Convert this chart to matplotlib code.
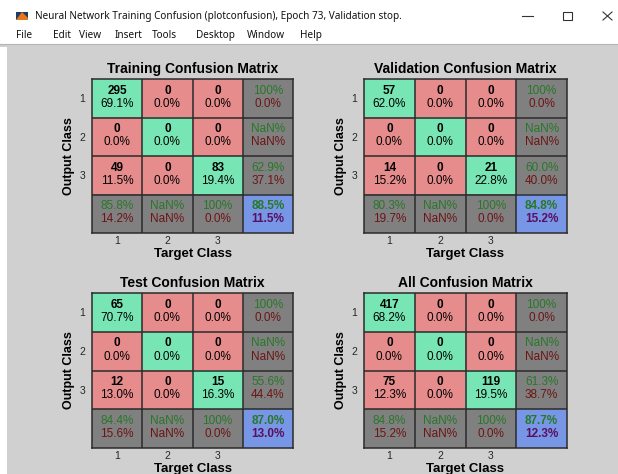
import numpy as np
import matplotlib.pyplot as plt
from matplotlib.patches import Rectangle, Polygon

W, H = 618, 474

WINDOW_TITLE = 'Neural Network Training Confusion (plotconfusion), Epoch 73, Validation stop.'
MENU_ITEMS = ['File', 'Edit', 'View', 'Insert', 'Tools', 'Desktop', 'Window', 'Help']
MENU_X = [16, 53, 79, 115, 152, 196, 247, 300]

CLASS_LABELS = ['1', '2', '3']
SET_NAMES = ['Training', 'Validation', 'Test', 'All']
# rows = output class, cols = target class
TRAIN_COUNTS = [[295, 0, 0], [0, 0, 0], [49, 0, 83]]
VALID_COUNTS = [[57, 0, 0], [0, 0, 0], [14, 0, 21]]
TEST_COUNTS = [[65, 0, 0], [0, 0, 0], [12, 0, 15]]
ALL_COUNTS = [[417, 0, 0], [0, 0, 0], [75, 0, 119]]

# axes boxes in pixels: x0, y0, x1, y1 (y from top)
BOXES = [(92, 79, 293, 233), (364, 79, 567, 233),
         (92, 293, 293, 448), (364, 293, 567, 448)]

GREEN = '#78e6b4'
RED = '#e68c8c'
GRAY = '#808080'
BLUE = '#7896e6'
TXT_GREEN = '#277827'
TXT_RED = '#6e1414'
BG = '#d0d0d0'
FONT = 'Liberation Sans'
CELL_FS = 8.5


def px_box(x0, y0, x1, y1):
    return [x0 / W, 1 - y1 / H, (x1 - x0) / W, (y1 - y0) / H]


def fmt_pct(v):
    if np.isnan(v):
        return 'NaN%'
    if round(v, 1) == 100:
        return '100%'
    return '%.1f%%' % v


def draw_matrix(ax, counts, name):
    cm = np.array(counts, dtype=float)
    n = cm.shape[0]
    total = cm.sum()
    rgb = np.zeros((n + 1, n + 1, 3))
    for i in range(n + 1):
        for j in range(n + 1):
            if i < n and j < n:
                c = GREEN if i == j else RED
            elif i == n and j == n:
                c = BLUE
            else:
                c = GRAY
            rgb[i, j] = plt.matplotlib.colors.to_rgb(c)
    ax.imshow(rgb, extent=(0, n + 1, n + 1, 0), aspect='auto', interpolation='nearest')
    for k in range(1, n + 1):
        ax.axhline(k, color='#2b2b2b', lw=1.1)
        ax.axvline(k, color='#2b2b2b', lw=1.1)

    up, dn = -0.2, 0.14
    for i in range(n):
        for j in range(n):
            ax.text(j + 0.5, i + 0.5 + up, '%d' % cm[i, j], ha='center', va='center',
                    fontsize=CELL_FS, fontweight='bold', family=FONT)
            ax.text(j + 0.5, i + 0.5 + dn, fmt_pct(100 * cm[i, j] / total), ha='center',
                    va='center', fontsize=CELL_FS, family=FONT)
    # row precision
    for i in range(n):
        s = cm[i].sum()
        p = 100 * cm[i, i] / s if s > 0 else np.nan
        ax.text(n + 0.5, i + 0.5 + up, fmt_pct(p), ha='center', va='center',
                fontsize=CELL_FS, color=TXT_GREEN, family=FONT)
        ax.text(n + 0.5, i + 0.5 + dn, fmt_pct(100 - p), ha='center', va='center',
                fontsize=CELL_FS, color=TXT_RED, family=FONT)
    # column recall
    for j in range(n):
        s = cm[:, j].sum()
        p = 100 * cm[j, j] / s if s > 0 else np.nan
        ax.text(j + 0.5, n + 0.5 + up, fmt_pct(p), ha='center', va='center',
                fontsize=CELL_FS, color=TXT_GREEN, family=FONT)
        ax.text(j + 0.5, n + 0.5 + dn, fmt_pct(100 - p), ha='center', va='center',
                fontsize=CELL_FS, color=TXT_RED, family=FONT)
    acc = 100 * np.trace(cm) / total
    ax.text(n + 0.5, n + 0.5 + up, fmt_pct(acc), ha='center', va='center',
            fontsize=CELL_FS, fontweight='bold', color=TXT_GREEN, family=FONT)
    ax.text(n + 0.5, n + 0.5 + dn, fmt_pct(100 - acc), ha='center', va='center',
            fontsize=CELL_FS, fontweight='bold', color='#5a1060', family=FONT)

    ax.set_xlim(0, n + 1)
    ax.set_ylim(n + 1, 0)
    ax.set_xticks(np.arange(n) + 0.5)
    ax.set_xticklabels(CLASS_LABELS, family=FONT, fontsize=7.5)
    ax.set_yticks(np.arange(n) + 0.5)
    ax.set_yticklabels(CLASS_LABELS, family=FONT, fontsize=7.5)
    ax.tick_params(axis='y', length=0, pad=5, colors='#262626')
    ax.tick_params(axis='x', length=0, pad=2, colors='#262626')
    for sp in ax.spines.values():
        sp.set_color('#2b2b2b')
        sp.set_linewidth(1.1)
    ax.set_title(name + ' Confusion Matrix', fontsize=10, fontweight='bold',
                 family=FONT, pad=4)
    ax.set_xlabel('Target Class', fontsize=9.5, fontweight='bold', family=FONT, labelpad=1.5)
    ax.set_ylabel('Output Class', fontsize=9, fontweight='bold', family=FONT, labelpad=3)


fig = plt.figure(figsize=(W / 100, H / 100), dpi=100)
fig.patch.set_facecolor('white')

# window chrome
bg = fig.add_axes([0, 0, 1, 1], zorder=0)
bg.set_xlim(0, W)
bg.set_ylim(H, 0)
bg.axis('off')
bg.add_patch(Rectangle((0, 44), W, 3, color=BG, lw=0))
bg.add_patch(Rectangle((7, 44), W - 7, H - 44, color=BG, lw=0))
bg.plot([0, W], [43.5, 43.5], color='#b4b4b4', lw=0.8)
bg.add_patch(Rectangle((16, 12), 12, 8, color='#1d3f66', lw=0))
bg.add_patch(Polygon([(16, 20), (22, 12), (28, 18), (28, 20)], closed=True, color='#e8761c', lw=0))
bg.text(35, 16, WINDOW_TITLE, fontsize=7.2, va='center', family='Noto Sans', color='#111111')
for label, x in zip(MENU_ITEMS, MENU_X):
    bg.text(x, 35, label, fontsize=7.2, va='center', family='Noto Sans', color='#111111')
bg.plot([522, 533], [16, 16], color='#333333', lw=0.8)
bg.add_patch(Rectangle((563, 12), 9, 8, fill=False, ec='#333333', lw=0.8))
bg.plot([603, 612], [12, 20], color='#333333', lw=0.8)
bg.plot([603, 612], [20, 12], color='#333333', lw=0.8)

all_counts = [TRAIN_COUNTS, VALID_COUNTS, TEST_COUNTS, ALL_COUNTS]
for counts, name, box in zip(all_counts, SET_NAMES, BOXES):
    ax = fig.add_axes(px_box(*box), zorder=2)
    ax.patch.set_alpha(0)
    draw_matrix(ax, counts, name)

fig.savefig('out.png', dpi=100, facecolor=fig.get_facecolor())
